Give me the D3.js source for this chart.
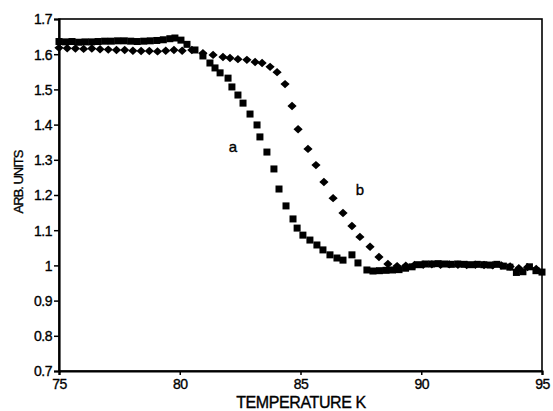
<!DOCTYPE html>
<html>
<head>
<meta charset="utf-8">
<script src="https://cdn.jsdelivr.net/npm/d3@7"></script>
<style>
  body { margin: 0; background: #fff; }
  text { font-family: "Liberation Sans", Arial, sans-serif; fill: #000; stroke: #000; stroke-width: 0.35px; }
  .axis path, .axis line { stroke: #000; }
  .axis text { font-size: 14px; letter-spacing: -0.5px; }
</style>
</head>
<body>
<svg id="chart"></svg>
<script>
// Tick values
const xTicks = [75, 80, 85, 90, 95]
const yTicks = [0.7, 0.8, 0.9, 1.0, 1.1, 1.2, 1.3, 1.4, 1.5, 1.6, 1.7]

// Series a (squares): temperature, value
const aTemp = [75.0, 75.27, 75.54, 75.81, 76.08, 76.35, 76.62, 76.89, 77.16, 77.43, 77.7, 77.97, 78.24, 78.51, 78.78, 79.05, 79.32, 79.59, 79.8, 80.05, 80.3,
    80.63, 80.96, 81.25, 81.46, 81.67, 82.0, 82.16, 82.41, 82.62, 82.91, 83.2, 83.32, 83.61, 83.9, 84.11, 84.4, 84.69, 84.86,
    85.1, 85.39, 85.68, 85.93, 86.22, 86.51, 86.76, 87.13, 87.38, 87.75, 88.0, 88.27, 88.54, 88.81, 89.08, 89.35, 89.62,
    89.89, 90.16, 90.43, 90.7, 90.97, 91.24, 91.51, 91.78, 92.05, 92.32, 92.59, 92.86, 93.13, 93.4, 93.67, 93.94, 94.21, 94.48, 94.75, 95.0]
const aVal = [1.636, 1.635, 1.636, 1.634, 1.635, 1.635, 1.636, 1.637, 1.637, 1.638, 1.638, 1.637, 1.636, 1.637, 1.638, 1.639, 1.641, 1.644, 1.646, 1.640, 1.628,
    1.612, 1.595, 1.575, 1.561, 1.547, 1.532, 1.507, 1.484, 1.461, 1.430, 1.399, 1.365, 1.322, 1.274, 1.217, 1.169, 1.132, 1.106,
    1.086, 1.072, 1.058, 1.044, 1.030, 1.021, 1.015, 1.030, 1.007, 0.987, 0.984, 0.985, 0.986, 0.987, 0.988, 0.992, 0.996,
    1.002, 1.004, 1.004, 1.005, 1.004, 1.003, 1.004, 1.003, 1.002, 1.003, 1.002, 1.001, 1.003, 0.998, 0.995, 0.980, 0.982, 0.996, 0.985, 0.981]

// Series b (diamonds): temperature, value
const bTemp = [75.0, 75.34, 75.68, 76.02, 76.36, 76.7, 77.04, 77.38, 77.72, 78.06, 78.4, 78.74, 79.08, 79.42, 79.76, 80.1, 80.5,
    80.96, 81.38, 81.79, 82.08, 82.41, 82.78, 83.12, 83.41, 83.74, 84.03, 84.36, 84.65, 84.9, 85.31, 85.64, 85.97, 86.35,
    86.76, 87.13, 87.46, 87.88, 88.25, 88.62, 89.0, 89.36, 89.72, 90.08, 90.44, 90.8, 91.16, 91.52, 91.88, 92.24, 92.6,
    92.96, 93.32, 93.68, 94.04, 94.4, 94.76]
const bVal = [1.618, 1.617, 1.616, 1.615, 1.616, 1.614, 1.613, 1.612, 1.612, 1.610, 1.609, 1.609, 1.608, 1.610, 1.612, 1.610, 1.612,
    1.603, 1.598, 1.592, 1.589, 1.586, 1.584, 1.578, 1.575, 1.564, 1.549, 1.515, 1.453, 1.387, 1.331, 1.285, 1.237, 1.191,
    1.149, 1.112, 1.081, 1.053, 1.024, 1.004, 0.998, 0.999, 1.001, 1.002, 1.003, 1.002, 1.003, 1.002, 1.001, 1.002, 1.001,
    1.000, 1.000, 0.997, 0.992, 0.995, 0.990]

const W = 553, H = 411,
    margin = { top: 19, right: 11, bottom: 40, left: 59 },
    iw = W - margin.left - margin.right,
    ih = H - margin.top - margin.bottom

const svg = d3.select('#chart')
    .attr('width', W)
    .attr('height', H)

const g = svg.append('g')
    .attr('transform', `translate(${margin.left},${margin.top})`)

const x = d3.scaleLinear().domain([75, 95]).range([0, iw])
const y = d3.scaleLinear().domain([0.7, 1.7]).range([ih, 0])

// Frame
g.append('rect')
    .attr('width', iw).attr('height', ih)
    .attr('fill', 'none').attr('stroke', '#000').attr('stroke-width', 1.6)

// Axes
g.append('g').classed('axis', true)
    .attr('transform', `translate(0,${ih})`)
    .call(d3.axisBottom(x).tickValues(xTicks).tickSize(4).tickPadding(4).tickFormat(d3.format('d')))
    .call(a => a.select('.domain').attr('stroke-width', 2.2))
    .call(a => a.selectAll('line').attr('stroke-width', 1.5))

g.append('g').classed('axis', true)
    .call(d3.axisLeft(y).tickValues(yTicks).tickSize(5).tickPadding(2).tickFormat(d => String(+d.toFixed(1))))
    .call(a => a.select('.domain').attr('stroke-width', 2.2))
    .call(a => a.selectAll('line').attr('stroke-width', 1.5))
    .call(a => a.selectAll('text').attr('dy', '0.35em'))

// Series b diamonds
const dw = 4.6, dh = 4.2
g.append('g').selectAll('path')
    .data(d3.zip(bTemp, bVal))
    .join('path')
    .attr('d', `M0,${-dh}L${dw},0L0,${dh}L${-dw},0Z`)
    .attr('transform', d => `translate(${x(d[0])},${y(d[1])})`)
    .attr('fill', '#000')

// Series a squares
const sq = 7
g.append('g').selectAll('rect')
    .data(d3.zip(aTemp, aVal))
    .join('rect')
    .attr('x', d => x(d[0]) - sq / 2)
    .attr('y', d => y(d[1]) - sq / 2)
    .attr('width', sq).attr('height', sq)
    .attr('fill', '#000')

// Curve labels
g.append('text').attr('x', x(82.2)).attr('y', y(1.336) + 5)
    .attr('text-anchor', 'middle').attr('font-size', 15).text('a')
g.append('text').attr('x', x(87.46)).attr('y', y(1.214) + 5)
    .attr('text-anchor', 'middle').attr('font-size', 15).text('b')

// Axis titles
svg.append('text')
    .attr('x', 301)
    .attr('y', 408)
    .attr('text-anchor', 'middle')
    .attr('font-size', 16)
    .attr('letter-spacing', '-0.4px')
    .text('TEMPERATURE K')

svg.append('text')
    .attr('transform', `translate(23,182) rotate(-90)`)
    .attr('text-anchor', 'middle')
    .attr('font-size', 13)
    .attr('letter-spacing', '-1px')
    .text('ARB. UNITS')
</script>
</body>
</html>
